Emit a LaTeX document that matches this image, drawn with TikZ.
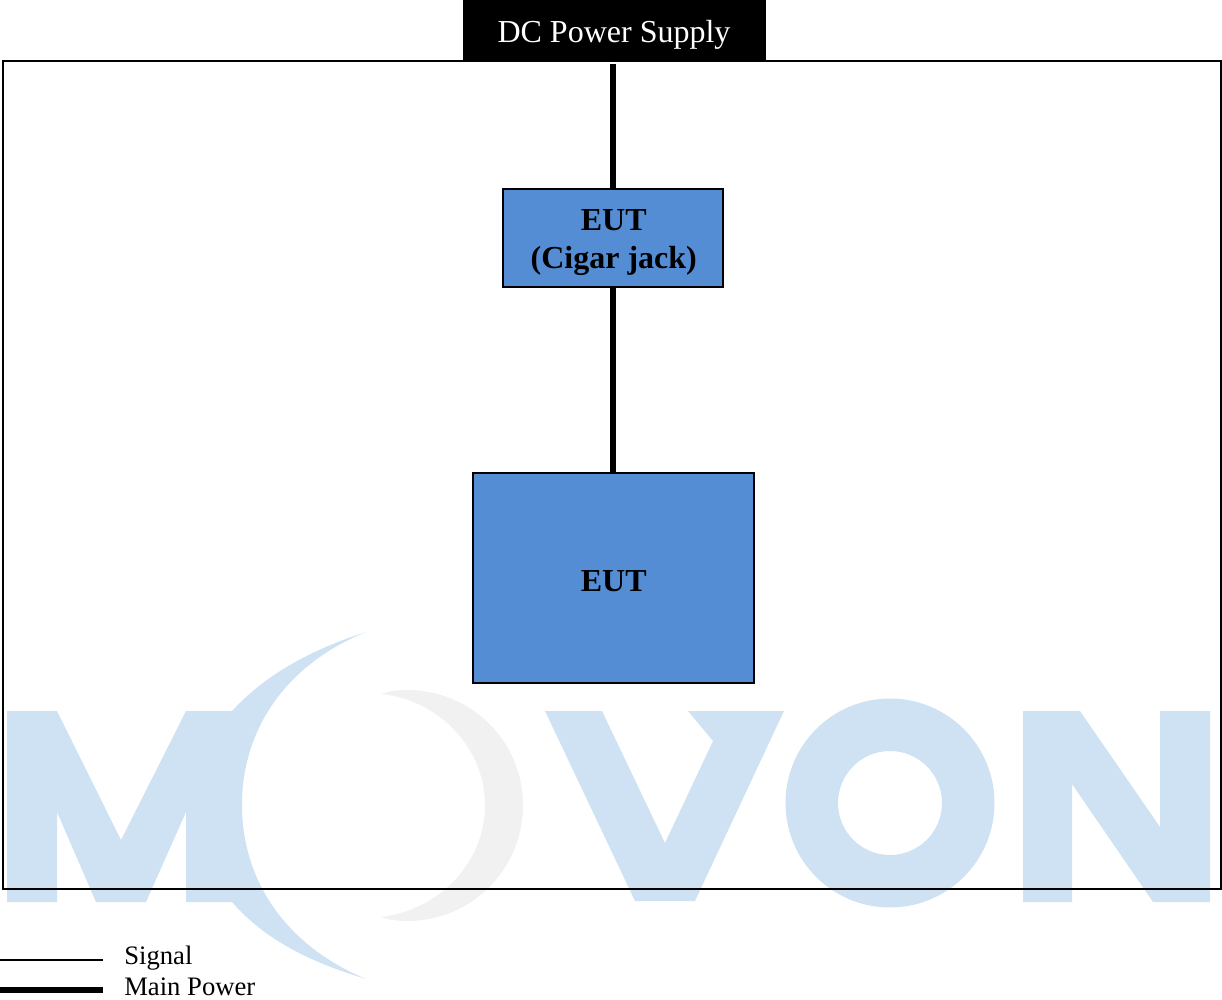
\documentclass[tikz,border=0pt]{standalone}
\usepackage{fontspec}
\setmainfont{Liberation Serif}
\definecolor{logoblue}{HTML}{CFE2F3}
\definecolor{logogray}{HTML}{F1F1F2}
\definecolor{eutblue}{HTML}{548DD4}
\tikzset{
  px/.style={x=0.75pt,y=-0.75pt},
  eutbox/.style={draw=black,line width=1.4pt,fill=eutblue,inner sep=0pt,outer sep=0pt},
  euttext/.style={align=center,inner sep=0pt,text=black,font=\fontsize{24}{28.5}\selectfont\bfseries},
  dcbox/.style={fill=black,inner sep=0pt,outer sep=0pt},
  dctext/.style={inner sep=0pt,text=white,yshift=-3pt,font=\fontsize{24}{28}\selectfont},
  power/.style={line width=4.3pt,draw=black},
  signal/.style={line width=1.5pt,draw=black},
  legend/.style={anchor=base west,inner sep=0pt,font=\fontsize{20}{24}\selectfont},
}
\begin{document}
\begin{tikzpicture}[px]
\useasboundingbox (0,0) rectangle (1222,1000);
% watermark logo
\fill[logoblue] (7,711) -- (57,711) -- (121,840) -- (186,711) -- (232,711)
  .. controls (265,675) and (310,650) .. (366,632)
  .. controls (285,665) and (242,730) .. (242,805)
  .. controls (242,880) and (285,945) .. (366,979)
  .. controls (310,962) and (265,940) .. (232,902)
  -- (186,902) -- (186,812) -- (146,902) -- (96,902) -- (57,812) -- (57,902) -- (7,902) -- cycle;
\fill[logogray] (381,694)
  .. controls (390,691) and (398,690) .. (407,690)
  .. controls (472,690) and (523,742) .. (523,805)
  .. controls (523,869) and (472,921) .. (407,921)
  .. controls (398,921) and (390,920) .. (381,917)
  .. controls (440,910) and (485,862) .. (485,805)
  .. controls (485,749) and (440,700) .. (381,694) -- cycle;
\fill[logoblue] (545,711) -- (602,711) -- (665,843) -- (713,741) -- (688,711) -- (784,711) -- (695,901) -- (635,901) -- cycle;
\fill[logoblue,even odd rule] (890,803) circle[radius=104.5] (890,803) circle[radius=52];
\fill[logoblue] (1023,711) -- (1080,711) -- (1160,827) -- (1160,711) -- (1210,711) -- (1210,902) -- (1153,902) -- (1072,784) -- (1072,902) -- (1023,902) -- cycle;
% frame
\node[draw=black,line width=1.5pt,inner sep=0pt,outer sep=0pt,minimum width=1218*0.75pt,minimum height=828*0.75pt] (frame) at (612,475) {};
% boxes
\node[dcbox,minimum width=303*0.75pt,minimum height=61*0.75pt,label={[dctext]center:DC Power Supply}] (dc) at (614,30.5) {};
\node[eutbox,minimum width=220*0.75pt,minimum height=98*0.75pt,label={[euttext,yshift=-3.75pt,xshift=0.4pt]center:EUT\\(Cigar jack)}] (jack) at (613.25,238) {};
\node[eutbox,minimum width=281*0.75pt,minimum height=210*0.75pt,label={[euttext,yshift=-2.25pt,xshift=0.4pt]center:EUT}] (eut) at (613.25,578) {};
% connectors
\draw[power,shorten <=2pt] (dc.south -| jack.north) -- (jack.north);
\draw[power] (jack.south) -- (eut.north);
% legend
\coordinate (s0) at (0,960); \coordinate (s1) at (103,960);
\coordinate (p0) at (0,990); \coordinate (p1) at (103,990);
\draw[signal] (s0) -- (s1);
\draw[power] (p0) -- (p1);
\node[legend] (sl) at (124,964) {Signal};
\node[legend] (pl) at (124,995) {Main Power};
\end{tikzpicture}
\end{document}
